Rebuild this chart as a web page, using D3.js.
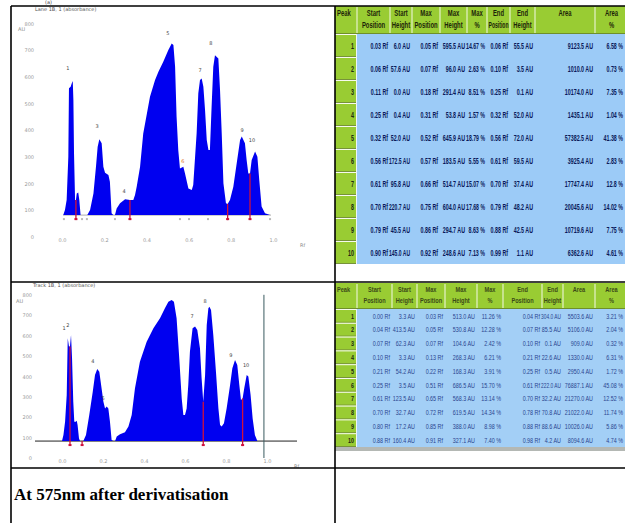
<!DOCTYPE html>
<html>
<head>
<meta charset="utf-8">
<script src="https://cdn.jsdelivr.net/npm/d3@7"></script>
<style>
  body { margin: 0; background: #fff; }
  svg { display: block; }
</style>
</head>
<body>
<div id="fig"></div>
<script>
// ---- values ----
const rfTicks = [0, 0.2, 0.4, 0.6, 0.8, 1.0];
const auTicks = [0, 100, 200, 300, 400, 500, 600, 700, 800];

// densitogram before derivatisation: [Rf, AU]
const profileTop = [
  [0.006, 82], [0.014, 101], [0.022, 139], [0.030, 301], [0.033, 557], [0.041, 563],
  [0.046, 575], [0.051, 584], [0.054, 513], [0.057, 313], [0.062, 139], [0.066, 139],
  [0.070, 163], [0.077, 167], [0.082, 139], [0.088, 82], [0.120, 82], [0.133, 101],
  [0.149, 163], [0.161, 263], [0.169, 338], [0.177, 366], [0.188, 351], [0.196, 263],
  [0.204, 241], [0.220, 232], [0.227, 207], [0.235, 89], [0.243, 82], [0.251, 82],
  [0.259, 107], [0.275, 126], [0.299, 141], [0.322, 139], [0.338, 139], [0.346, 157],
  [0.354, 188], [0.370, 263], [0.385, 388], [0.417, 525], [0.441, 588], [0.457, 619],
  [0.480, 656], [0.504, 700], [0.520, 725], [0.528, 719], [0.536, 638], [0.543, 451],
  [0.551, 326], [0.559, 257], [0.575, 263], [0.583, 238], [0.599, 182], [0.615, 176],
  [0.622, 195], [0.638, 388], [0.646, 538], [0.654, 588], [0.662, 594], [0.670, 563],
  [0.678, 475], [0.686, 363], [0.694, 326], [0.701, 326], [0.709, 488], [0.717, 638],
  [0.725, 681], [0.741, 669], [0.749, 550], [0.757, 388], [0.765, 201], [0.777, 126],
  [0.785, 124], [0.796, 139], [0.812, 188], [0.828, 276], [0.844, 363], [0.852, 376],
  [0.867, 351], [0.875, 288], [0.883, 238], [0.891, 238], [0.899, 288], [0.915, 320],
  [0.926, 301], [0.935, 213], [0.946, 114], [0.962, 89], [0.986, 82]
];
const baselineTop = 82;
const splitsTop = [0.066, 0.322, 0.785, 0.891];
const marksTop = [0.009, 0.066, 0.095, 0.118, 0.251, 0.322, 0.559, 0.602, 0.692, 0.785, 0.891, 0.986];
const peakLabelsTop = [
  ["1", 0.028, 625], ["3", 0.166, 408], ["4", 0.294, 165], ["5", 0.502, 757], ["6", 0.573, 277],
  ["7", 0.654, 618], ["8", 0.706, 719], ["9", 0.853, 393], ["10", 0.900, 356]
];

// densitogram at 575nm after derivatisation: [Rf, AU]
const profileBottom = [
  [0.000, 83], [0.007, 113], [0.015, 178], [0.023, 309], [0.028, 587], [0.034, 546],
  [0.039, 546], [0.044, 603], [0.049, 489], [0.055, 276], [0.060, 178], [0.067, 178],
  [0.072, 183], [0.076, 162], [0.083, 96], [0.088, 83], [0.104, 83], [0.117, 113],
  [0.133, 211], [0.150, 325], [0.161, 407], [0.172, 436], [0.182, 423], [0.193, 342],
  [0.202, 276], [0.210, 243], [0.218, 252], [0.226, 243], [0.234, 178], [0.242, 88],
  [0.250, 83], [0.259, 83], [0.267, 105], [0.283, 116], [0.307, 126], [0.324, 154],
  [0.340, 211], [0.356, 342], [0.380, 472], [0.413, 570], [0.446, 636], [0.478, 685],
  [0.502, 734], [0.519, 766], [0.535, 775], [0.546, 766], [0.559, 685], [0.572, 489],
  [0.584, 292], [0.592, 211], [0.600, 211], [0.608, 243], [0.616, 358], [0.624, 521],
  [0.637, 636], [0.649, 644], [0.660, 627], [0.673, 538], [0.681, 391], [0.689, 276],
  [0.698, 407], [0.706, 652], [0.714, 734], [0.719, 742], [0.727, 726], [0.738, 603],
  [0.751, 423], [0.763, 243], [0.771, 162], [0.779, 154], [0.790, 170], [0.803, 243],
  [0.820, 358], [0.831, 440], [0.844, 480], [0.855, 456], [0.865, 358], [0.873, 284],
  [0.881, 292], [0.889, 342], [0.901, 407], [0.909, 399], [0.920, 309], [0.930, 194],
  [0.941, 113], [0.953, 83]
];
const baselineBottom = 83;
const splitsBottom = [0.039, 0.098, 0.689, 0.881];
const frontBottom = 0.985;
const peakLabelsBottom = [
  ["1", 0.010, 627], ["2", 0.029, 642], ["4", 0.151, 466], ["5", 0.200, 284], ["7", 0.634, 686],
  ["8", 0.698, 760], ["9", 0.824, 495], ["10", 0.898, 446]
];

// peak tables
const tableHeaders = [
  ["Peak"], ["Start", "Position"], ["Start", "Height"], ["Max", "Position"], ["Max", "Height"],
  ["Max", "%"], ["End", "Position"], ["End", "Height"], ["Area"], ["Area", "%"]
];
const peakNumbers = ["1", "2", "3", "4", "5", "6", "7", "8", "9", "10"];
const rowsTop = [
  ["0.03 Rf", "6.0 AU", "0.05 Rf", "595.5 AU", "14.67 %", "0.06 Rf", "55.5 AU", "9123.5 AU", "6.58 %"],
  ["0.06 Rf", "57.6 AU", "0.07 Rf", "96.0 AU", "2.63 %", "0.10 Rf", "3.5 AU", "1010.0 AU", "0.73 %"],
  ["0.11 Rf", "0.0 AU", "0.18 Rf", "291.4 AU", "8.51 %", "0.25 Rf", "0.1 AU", "10174.0 AU", "7.35 %"],
  ["0.25 Rf", "0.4 AU", "0.31 Rf", "53.8 AU", "1.57 %", "0.32 Rf", "52.0 AU", "1435.1 AU", "1.04 %"],
  ["0.32 Rf", "52.0 AU", "0.52 Rf", "645.9 AU", "18.79 %", "0.56 Rf", "72.0 AU", "57382.5 AU", "41.38 %"],
  ["0.56 Rf", "172.5 AU", "0.57 Rf", "183.5 AU", "5.55 %", "0.61 Rf", "59.5 AU", "3925.4 AU", "2.83 %"],
  ["0.61 Rf", "95.8 AU", "0.66 Rf", "514.7 AU", "15.07 %", "0.70 Rf", "37.4 AU", "17747.4 AU", "12.8 %"],
  ["0.70 Rf", "220.7 AU", "0.75 Rf", "604.0 AU", "17.68 %", "0.79 Rf", "48.2 AU", "20045.6 AU", "14.02 %"],
  ["0.79 Rf", "45.5 AU", "0.86 Rf", "294.7 AU", "8.63 %", "0.88 Rf", "42.5 AU", "10719.6 AU", "7.75 %"],
  ["0.90 Rf", "145.0 AU", "0.92 Rf", "248.6 AU", "7.13 %", "0.99 Rf", "1.1 AU", "6362.6 AU", "4.61 %"]
];
const rowsBottom = [
  ["0.00 Rf", "3.3 AU", "0.03 Rf", "513.0 AU", "11.26 %", "0.04 Rf", "304.0 AU", "5503.6 AU", "3.21 %"],
  ["0.04 Rf", "413.5 AU", "0.05 Rf", "530.8 AU", "12.28 %", "0.07 Rf", "85.5 AU", "5106.0 AU", "2.04 %"],
  ["0.07 Rf", "62.3 AU", "0.07 Rf", "104.6 AU", "2.42 %", "0.10 Rf", "0.1 AU", "909.0 AU", "0.32 %"],
  ["0.10 Rf", "3.3 AU", "0.13 Rf", "268.3 AU", "6.21 %", "0.21 Rf", "22.6 AU", "1330.0 AU", "6.31 %"],
  ["0.21 Rf", "54.2 AU", "0.22 Rf", "168.3 AU", "3.91 %", "0.25 Rf", "0.5 AU", "2950.4 AU", "1.72 %"],
  ["0.25 Rf", "3.5 AU", "0.51 Rf", "686.5 AU", "15.70 %", "0.61 Rf", "222.0 AU", "76887.1 AU", "45.08 %"],
  ["0.61 Rf", "123.5 AU", "0.65 Rf", "568.3 AU", "13.14 %", "0.70 Rf", "32.2 AU", "21270.0 AU", "12.52 %"],
  ["0.70 Rf", "32.7 AU", "0.72 Rf", "619.5 AU", "14.34 %", "0.78 Rf", "70.8 AU", "21022.0 AU", "11.74 %"],
  ["0.80 Rf", "17.2 AU", "0.85 Rf", "388.0 AU", "8.98 %", "0.88 Rf", "88.6 AU", "10026.0 AU", "5.86 %"],
  ["0.88 Rf", "160.4 AU", "0.91 Rf", "327.1 AU", "7.40 %", "0.98 Rf", "4.2 AU", "8094.6 AU", "4.74 %"]
];
const caption = "At 575nm after derivatisation";

// ---- drawing ----
const W = 625, H = 523;
const svg = d3.select("#fig").append("svg").attr("width", W).attr("height", H);

function drawChart(opt) {
  const g = svg.append("g");
  const x = d3.scaleLinear().domain([0, 1]).range(opt.xRange);
  const y = d3.scaleLinear().domain([0, 800]).range(opt.yRange);

  g.append("text").attr("x", opt.titlePos[0]).attr("y", opt.titlePos[1])
    .style("font", "5px 'DejaVu Sans'").style("fill", "#555").text(opt.title);

  // y tick labels (axis line hidden like the scanner software)
  const ya = g.append("g").attr("transform", `translate(${opt.yLabelX},0)`)
    .call(d3.axisLeft(y).tickValues(auTicks).tickSize(0).tickPadding(0));
  ya.select(".domain").remove();
  ya.selectAll("text").style("font", "5px 'DejaVu Sans'").style("fill", "#9a9a9a");
  g.append("text").attr("x", opt.yLabelX - 16).attr("y", y(800) + 8)
    .style("font", "5px 'DejaVu Sans'").style("fill", "#888").text("AU");

  const xa = g.append("g").attr("transform", `translate(0,${opt.xLabelY})`)
    .call(d3.axisBottom(x).tickValues(rfTicks).tickFormat(d3.format(".1f")).tickSize(0).tickPadding(0));
  xa.select(".domain").remove();
  xa.selectAll("text").style("font", "5px 'DejaVu Sans'").style("fill", "#9a9a9a");
  g.append("text").attr("x", x(1) + 27).attr("y", opt.xLabelY + 9)
    .style("font", "5px 'DejaVu Sans'").style("fill", "#888").text("Rf");

  const base = y(opt.baseline);
  g.append("line").attr("x1", opt.baseExtent[0]).attr("x2", opt.baseExtent[1])
    .attr("y1", base).attr("y2", base)
    .attr("stroke", opt.baseColor).attr("stroke-width", opt.baseWidth);

  const area = d3.area().x(d => x(d[0])).y0(base).y1(d => y(d[1]));
  g.append("path").datum(opt.profile).attr("d", area).attr("fill", "#0000f0");

  const interp = rf => {
    const i = d3.bisector(d => d[0]).left(opt.profile, rf);
    const a = opt.profile[Math.max(0, i - 1)], b = opt.profile[Math.min(opt.profile.length - 1, i)];
    const t = b[0] === a[0] ? 0 : (rf - a[0]) / (b[0] - a[0]);
    return a[1] + t * (b[1] - a[1]);
  };

  if (opt.marks) {
    g.selectAll(".mk").data(opt.marks).enter().append("rect")
      .attr("x", d => x(d) - 1).attr("y", base + 3).attr("width", 2).attr("height", 2)
      .attr("fill", "#b8b8b8");
  }

  g.selectAll(".split").data(opt.splits).enter().append("line")
    .attr("x1", d => x(d)).attr("x2", d => x(d))
    .attr("y1", d => y(interp(d))).attr("y2", base + 5)
    .attr("stroke", "#d0103a").attr("stroke-width", 1.3);
  g.selectAll(".splitEnd").data(opt.splits).enter().append("rect")
    .attr("x", d => x(d) - 1.5).attr("y", base + 3).attr("width", 3).attr("height", 2)
    .attr("fill", "#d0103a");

  g.selectAll(".pl").data(opt.labels).enter().append("text")
    .attr("x", d => x(d[1])).attr("y", d => y(d[2]))
    .attr("text-anchor", "middle")
    .style("font", "5px 'DejaVu Sans'")
    .style("fill", d => d[0] === "6" && opt.orange ? "#e07020" : "#444")
    .text(d => d[0]);

  if (opt.front != null) {
    g.append("line").attr("x1", x(opt.front)).attr("x2", x(opt.front))
      .attr("y1", y(800)).attr("y2", y(0))
      .attr("stroke", "#3a5a60").attr("stroke-width", 1);
  }
}

drawChart({
  title: "Lane 1B, 1 (absorbance)", titlePos: [35, 11],
  xRange: [62, 273], yRange: [237, 23.4], yLabelX: 34, xLabelY: 238,
  profile: profileTop, baseline: baselineTop, baseExtent: [63, 271], baseColor: "#9a9a9a", baseWidth: 0.8,
  splits: splitsTop, marks: marksTop, labels: peakLabelsTop, orange: true
});

drawChart({
  title: "Track 1B, 1 (absorbance)", titlePos: [33, 287],
  xRange: [62, 267], yRange: [458, 294.8], yLabelX: 32, xLabelY: 459,
  profile: profileBottom, baseline: baselineBottom, baseExtent: [35, 297], baseColor: "#222", baseWidth: 1,
  splits: splitsBottom, labels: peakLabelsBottom, front: frontBottom
});

// condense a text horizontally, a bit more if it would not fit its cell
function fitText(sel, x, y, maxScale, avail) {
  const len = sel.node().getComputedTextLength() || 1;
  const s = Math.min(maxScale, avail / len);
  sel.attr("transform", `translate(${x},${y}) scale(${s},1)`);
}

function drawTable(opt) {
  const g = svg.append("g");
  const cols = opt.cols;
  const hTop = opt.top, hBot = opt.top + opt.headerH;
  const bodyEnd = hBot + opt.rowH * opt.rows.length;
  const fontFam = "'Liberation Sans Narrow', 'Liberation Sans', sans-serif";

  g.append("rect").attr("x", cols[0]).attr("y", hTop).attr("width", cols[cols.length - 1] - cols[0])
    .attr("height", opt.headerH).attr("fill", "#99cc33");
  g.append("rect").attr("x", cols[1]).attr("y", hBot).attr("width", cols[cols.length - 1] - cols[1])
    .attr("height", bodyEnd - hBot).attr("fill", opt.blue);
  if (opt.shadow) {
    g.append("rect").attr("x", cols[0]).attr("y", bodyEnd).attr("width", cols[cols.length - 1] - cols[0])
      .attr("height", 4).attr("fill", "#b4b8b4");
  }
  cols.slice(1, -1).forEach(cx => {
    g.append("line").attr("x1", cx).attr("x2", cx).attr("y1", hTop + 1).attr("y2", hBot)
      .attr("stroke", "#f4f8e8").attr("stroke-width", 1);
  });
  g.append("line").attr("x1", cols[0]).attr("x2", cols[cols.length - 1]).attr("y1", hBot - 0.5).attr("y2", hBot - 0.5)
    .attr("stroke", "#6f8f2a").attr("stroke-width", 1);

  tableHeaders.forEach((lines, i) => {
    const cx = i === 0 ? cols[0] + 2 : (cols[i] + cols[i + 1]) / 2;
    const avail = cols[i + 1] - cols[i] - 3;
    lines.forEach((s, j) => {
      const t = g.append("text")
        .attr("text-anchor", i === 0 ? "start" : "middle")
        .style("font", `${opt.headWeight} ${opt.headFont}px ${fontFam}`)
        .style("fill", opt.headColor).text(s);
      fitText(t, cx, hTop + opt.headLine[j], opt.headSx, avail);
    });
  });

  peakNumbers.forEach((n, r) => {
    const ry = hBot + r * opt.rowH;
    g.append("rect").attr("x", cols[0]).attr("y", ry).attr("width", cols[1] - cols[0] - 1)
      .attr("height", opt.rowH).attr("fill", "#99cc33");
    g.append("line").attr("x1", cols[0]).attr("x2", cols[1] - 1).attr("y1", ry + 0.5).attr("y2", ry + 0.5)
      .attr("stroke", "#f6faee").attr("stroke-width", 1);
    g.append("line").attr("x1", cols[0]).attr("x2", cols[1] - 1).attr("y1", ry + opt.rowH - 0.5).attr("y2", ry + opt.rowH - 0.5)
      .attr("stroke", "#77923a").attr("stroke-width", 1);
    const t = g.append("text")
      .attr("text-anchor", "end")
      .style("font", `bold ${opt.bodyFont}px ${fontFam}`)
      .style("fill", "#202810").text(n);
    fitText(t, cols[1] - 3, ry + opt.rowH / 2 + opt.bodyFont * 0.36, opt.sx, 18);
  });
  g.append("line").attr("x1", cols[1] - 0.5).attr("x2", cols[1] - 0.5).attr("y1", hBot).attr("y2", bodyEnd)
    .attr("stroke", "#eef4f8").attr("stroke-width", 1);

  opt.rows.forEach((row, r) => {
    const ty = hBot + r * opt.rowH + opt.rowH / 2 + opt.bodyFont * 0.36;
    row.forEach((s, c) => {
      const t = g.append("text")
        .attr("text-anchor", "end")
        .style("font", `${opt.bodyWeight} ${opt.bodyFont}px ${fontFam}`)
        .style("fill", opt.bodyColor).text(s);
      const right = Math.min(cols[c + 2], W) - 2;
      fitText(t, right, ty, opt.sx, right - cols[c + 1] + 1);
    });
  });
}

drawTable({
  cols: [335, 357, 390, 412, 440, 467, 487, 510, 535, 595, 628],
  top: 6, headerH: 28, rowH: 23, rows: rowsTop,
  headLine: [10, 22], headFont: 9.5, headWeight: "bold", headSx: 0.62,
  bodyFont: 9.5, sx: 0.56, bodyWeight: "bold",
  headColor: "#1c2408", bodyColor: "#0a1a5a", blue: "#9ccbf7", shadow: false
});

drawTable({
  cols: [335, 357, 392, 417, 445, 477, 503, 542, 563, 595, 628],
  top: 283, headerH: 26, rowH: 13.8, rows: rowsBottom,
  headLine: [9, 20], headFont: 7.5, headWeight: "bold", headSx: 0.75,
  bodyFont: 7.5, sx: 0.72, bodyWeight: "normal",
  headColor: "#3a4a18", bodyColor: "#2a4590", blue: "#a3cff6", shadow: true
});

// frame of the document table
const frame = svg.append("g").attr("stroke", "#000").attr("stroke-width", 1.6);
frame.append("line").attr("x1", 11).attr("x2", W).attr("y1", 6).attr("y2", 6);
frame.append("line").attr("x1", 11).attr("x2", W).attr("y1", 282).attr("y2", 282);
frame.append("line").attr("x1", 11).attr("x2", W).attr("y1", 468).attr("y2", 468);
frame.append("line").attr("x1", 11).attr("x2", 11).attr("y1", 6).attr("y2", H);
frame.append("line").attr("x1", 335).attr("x2", 335).attr("y1", 6).attr("y2", H);

svg.append("text").attr("x", 45).attr("y", 4).style("font", "5px 'DejaVu Sans'").style("fill", "#444").text("(a)");

svg.append("text").attr("x", 14).attr("y", 500)
  .style("font", "bold 17px 'Liberation Serif', 'Times New Roman', serif")
  .style("fill", "#000").text(caption);
</script>
</body>
</html>
